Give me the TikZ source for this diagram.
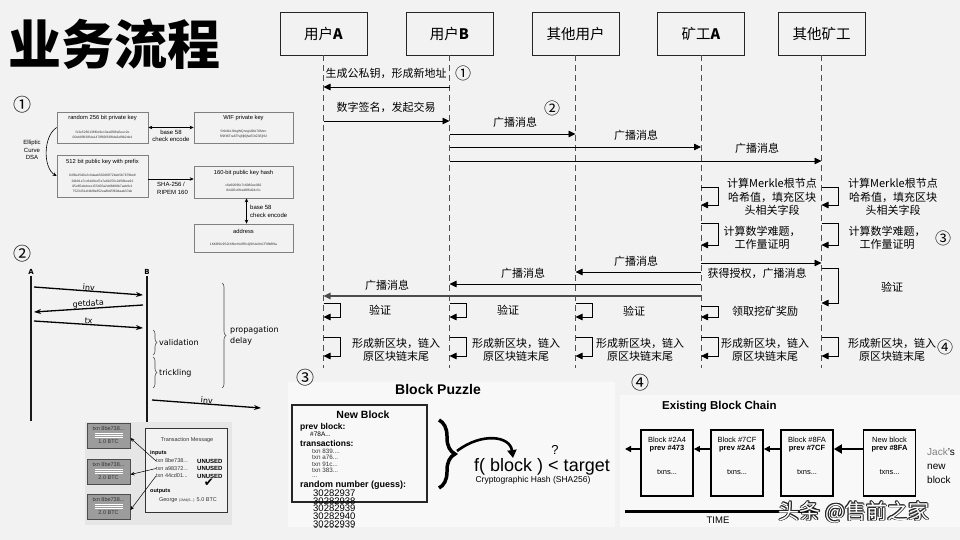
\documentclass[tikz,border=0pt]{standalone}
\usepackage{fontspec}
\setmainfont{Liberation Sans}
\newfontfamily\cjk{Noto Sans CJK SC}
\newfontfamily\dvs{DejaVu Sans}
\usetikzlibrary{arrows.meta,decorations.pathreplacing,calc}
\definecolor{bgc}{HTML}{F2F2F2}
\definecolor{lifec}{HTML}{505050}
\definecolor{panelc}{HTML}{F8F8F8}
\definecolor{txbg}{HTML}{E6E6E6}
\definecolor{coinc}{HTML}{9C9C9C}
\newcommand\sqloop[3]{\draw[msg] (#1.south |- 0,#2) -- ++(17,0) |- (#1.south |- 0,#3);}
\tikzset{
  hdr/.style={draw=black!85, line width=0.7pt, minimum width=87pt, minimum height=43pt, inner sep=0pt, font=\cjk\fontsize{14.5}{15}\selectfont},
  life/.style={draw=lifec, line width=0.9pt, dash pattern=on 6pt off 4pt},
  msg/.style={draw=black, line width=0.8pt, -{Triangle[length=7pt,width=6.5pt]}},
  lbl/.style={font=\cjk\fontsize{11}{13.5}\selectfont, align=center, inner sep=0pt},
  circnum/.style={font=\cjk\fontsize{16}{16}\selectfont, inner sep=0pt},
  bignum/.style={font=\cjk\fontsize{18}{18}\selectfont, inner sep=0pt},
  kbox/.style={draw=black!50, line width=0.6pt, fill=bgc},
  ktitle/.style={font=\fontsize{5.8}{6}\selectfont, inner sep=0pt},
  khex/.style={font=\fontsize{3.3}{5.2}\selectfont, align=center, inner sep=0pt, text=black!80},
  ksmall/.style={font=\fontsize{6}{7.5}\selectfont, align=center, inner sep=0pt},
  karr/.style={line width=0.6pt, {Stealth[length=4pt,width=3.5pt]}-{Stealth[length=4pt,width=3.5pt]}},
  karr1/.style={line width=0.6pt, -{Stealth[length=4pt,width=3.5pt]}},
  pline/.style={line width=1.6pt, draw=black!90},
  parr/.style={line width=1.3pt, -{Stealth[length=7pt,width=5pt]}},
  pl/.style={font=\dvs\fontsize{8}{9}\selectfont, inner sep=1pt},
  pbrace/.style={draw=black!70, line width=0.6pt, decorate, decoration={brace, amplitude=4pt}},
  coin/.style={draw=black!70, fill=coinc, line width=0.9pt, minimum width=43pt, minimum height=25pt, inner sep=0pt},
  tsm/.style={font=\fontsize{5.5}{6}\selectfont, inner sep=0pt},
  bbox/.style={draw=black, line width=1.8pt, minimum width=52pt, minimum height=66pt, inner sep=0pt},
  btxt/.style={font=\fontsize{7.5}{8}\selectfont, inner sep=0pt},
  barr/.style={line width=1.4pt, -{Triangle[length=6pt,width=6pt]}},
  txnl/.style={anchor=west, font=\fontsize{6.3}{7}\selectfont, inner sep=0pt, text=black!80},
}
\begin{document}
\begin{tikzpicture}[x=1pt,y=-1pt]
\fill[bgc] (0,0) rectangle (960,540);
\useasboundingbox (0,0) rectangle (960,540);

% ---------------- Title
\node[anchor=west, font=\cjk\bfseries\fontsize{53}{53}\selectfont, inner sep=0pt] (title) at (8,44) {业务流程};

% ---------------- Sequence diagram
\node[hdr] (hA) at (323.5,33.5) {用户\textbf{A}};
\node[hdr] (hB) at (449.5,33.5) {用户\textbf{B}};
\node[hdr] (hO) at (575.5,33.5) {其他用户};
\node[hdr] (hM) at (701,33.5) {矿工\textbf{A}};
\node[hdr] (hN) at (821.5,33.5) {其他矿工};
\foreach \h in {hA,hB,hO,hM,hN}{
  \coordinate (\h e) at (\h.south |- 0,368);
  \draw[life] (\h.south) -- (\h e);
}

\draw[msg] (hB.south |- 0,87) -- (hA.south |- 0,87);
\node[lbl] (l1) at (386,73) {生成公私钥，形成新地址};
\node[circnum] (n1) at (463,73) {①};
\draw[msg] (hA.south |- 0,121) -- (hB.south |- 0,121);
\node[lbl] (l2) at (386,107) {数字签名，发起交易};
\node[circnum] (n2) at (552,108) {②};
\draw[msg] (hB.south |- 0,134) -- (hO.south |- 0,134);
\node[lbl] (l3) at (515,122) {广播消息};
\draw[msg] (hB.south |- 0,147) -- (hM.south |- 0,147);
\node[lbl] (l4) at (636,135) {广播消息};
\draw[msg] (hB.south |- 0,161) -- (hN.south |- 0,161);
\node[lbl] (l5) at (757,148) {广播消息};

\sqloop{hM}{187}{205}
\node[lbl] (l6) at (772,197) {计算Merkle根节点\\哈希值，填充区块\\头相关字段};
\sqloop{hN}{187}{205}
\node[lbl] (l7) at (893,197) {计算Merkle根节点\\哈希值，填充区块\\头相关字段};

\sqloop{hM}{223}{245}
\node[lbl] (l8) at (762,238) {计算数学难题，\\工作量证明};
\sqloop{hN}{223}{245}
\node[lbl] (l9) at (887,238) {计算数学难题，\\工作量证明};
\node[circnum] (n3) at (943,238) {③};

\draw[msg] (hM.south |- 0,263) -- (hN.south |- 0,263);
\node[lbl] (l10) at (757,273) {获得授权，广播消息};
\draw[msg] (hM.south |- 0,272) -- (hO.south |- 0,272);
\node[lbl] (l11) at (636,261) {广播消息};
\draw[msg] (hM.south |- 0,284) -- (hB.south |- 0,284);
\node[lbl] (l12) at (523,273) {广播消息};
\draw[msg, draw=black!70, line width=1.2pt] (hM.south |- 0,296) -- (hA.south |- 0,296);
\node[lbl] (l13) at (387,285) {广播消息};

\sqloop{hN}{268}{303}
\node[lbl] (l14) at (892,287) {验证};
\sqloop{hM}{306}{317}
\node[lbl] (l15) at (765,311) {领取挖矿奖励};
\sqloop{hA}{303}{317}
\node[lbl] (l16) at (380,310) {验证};
\sqloop{hB}{303}{317}
\node[lbl] (l17) at (508,310) {验证};
\sqloop{hO}{303}{317}
\node[lbl] (l18) at (634,311) {验证};

\foreach \h/\x in {hA/396,hB/516,hO/640,hM/765,hN/892}{
  \sqloop{\h}{337}{356}
  \node[lbl] at (\x,350) {形成新区块，链入\\原区块链末尾};
}
\node[circnum] (n4) at (945,347) {④};

% ---------------- Panel 1 : keys
\node[bignum] (p1) at (22,105) {①};
\node[kbox, minimum width=91pt, minimum height=31pt] (k1) at (102.5,127.5) {};
\node[ktitle] at (102.5,118) {random 256 bit private key};
\node[khex] at (102.5,134.5) {f13e5230138f0e9e13ae0f08a5eec2e\\00eb8f6f18f4a1478f60f33f8da3ef8b2de4};
\node[kbox, minimum width=99pt, minimum height=31pt] (k2) at (243.5,127.5) {};
\node[ktitle] at (243.5,118) {WIF private key};
\node[khex] at (243.5,134.5) {5Kb8kLf9zgWQnogidDA76Mzn\\5f9f36Tra6Tfvj8fj8jfwEDtZ3Ejhf2};
\draw[karr] (k1.east) -- (k2.west);
\node[ksmall] at (171,136) {base 58\\check encode};

\node[kbox, minimum width=91pt, minimum height=42pt] (k3) at (102.5,176) {};
\node[ktitle] at (102.5,162) {512 bit public key with prefix};
\node[khex] at (102.5,183.5) {04f6e45d0c2c0daab5001f8f72beb5b7679be8\\20b81e7cc6d49ed7a7a61055c2d58bee92\\05e65ebdcee155405a2dd8480b7aeb8c1\\7523451ef4bf9a852ea8b05f604aab37ab};
\node[ksmall] (ecd) at (32,150) {Elliptic\\Curve\\DSA};
\draw[karr1] (k1.west) .. controls (43,136) and (43,168) .. (k3.west);

\node[kbox, minimum width=99pt, minimum height=32pt] (k4) at (243.5,182) {};
\node[ktitle] at (243.5,173) {160-bit public key hash};
\node[khex] at (243.5,188) {c6e60696c7c6080ee062\\84405c8f4ed8f6d24c5c};
\draw[karr1] ([yshift=-3pt]k3.east) -- ([yshift=3pt]k4.west);
\node[ksmall, align=left, anchor=west] at (157,188.5) {SHA-256 /\\RIPEM 160};

\node[kbox, minimum width=99pt, minimum height=28pt] (k5) at (243.5,238) {};
\node[ktitle] at (243.5,231) {address};
\node[khex] at (243.5,245) {1KKB9U9S2IX8bnHe8RlcQ9Kde9sCF9fb8f9a};
\draw[karr] ([xshift=3pt]k4.south) -- ([xshift=3pt]k5.north);
\node[ksmall, align=left, anchor=west] at (250,211.5) {base 58\\check encode};

% ---------------- Panel 2 : propagation
\node[bignum] (p2) at (22,254) {②};
\node[pl, font=\dvs\bfseries\fontsize{7}{8}\selectfont] (pA) at (31,272) {A};
\node[pl, font=\dvs\bfseries\fontsize{7}{8}\selectfont] (pB) at (147,272) {B};
\coordinate (pAe) at (31,421);
\coordinate (pBe) at (147,422);
\draw[pline] (pA.south) -- (pAe);
\draw[pline] (pB.south) -- (pBe);
\coordinate (a1) at (34,287); \coordinate (b1) at (143,295);
\coordinate (b2) at (143,305); \coordinate (a2) at (34,312);
\coordinate (a3) at (34,321); \coordinate (b3) at (143,328);
\coordinate (b4) at (152,400); \coordinate (x4) at (261,408);
\draw[parr] (a1) -- node[pl, sloped, above=-1pt] {inv} (b1);
\draw[parr] (b2) -- node[pl, sloped, above=-1pt] {getdata} (a2);
\draw[parr] (a3) -- node[pl, sloped, above=-1pt] {tx} (b3);
\draw[parr] (b4) -- node[pl, sloped, above=-1pt] {inv} (x4);
\draw[pbrace] (153,330) -- (153,355);
\node[pl, anchor=west] at (158,343) {validation};
\draw[pbrace] (153,357) -- (153,388);
\node[pl, anchor=west] at (158,373) {trickling};
\draw[pbrace] (222,283) -- (222,388);
\node[pl, anchor=west, align=left, font=\dvs\fontsize{8}{11}\selectfont] at (229,336) {propagation\\delay};

% ---------------- Panel : transaction message
\fill[txbg] (85,422) rectangle (232,525);
\foreach \c/\y/\v in {c1/435.5/1.0,c2/471.5/2.0,c3/506.5/2.0}{
  \node[coin] (\c) at (108.5,\y) {};
  \node[tsm, text=black!80] at ([yshift=7pt]\c.center) {txn 8be738...};
  \foreach \d in {2.5,0.5,-1.5}{
    \draw[white!70, line width=0.4pt] ([xshift=-14pt,yshift=\d pt]\c.center) -- ++(28,0);
  }
  \node[tsm, text=black!80] at ([yshift=-6.5pt]\c.center) {\v\ BTC};
}
\node[draw=black!80, fill=bgc, line width=0.8pt, minimum width=82pt, minimum height=84pt, inner sep=0pt] (tm) at (186,470) {};
\node[tsm, text=black!80] at (187,440) {Transaction Message};
\node[tsm, anchor=west, font=\bfseries\fontsize{5.5}{6}\selectfont] at (150,453) {inputs};
\node[tsm, anchor=west, text=black!80] (i1) at (156,461) {txn 8be738...};
\node[tsm, anchor=west, text=black!80] (i2) at (156,468.5) {txn a98372...};
\node[tsm, anchor=west, text=black!80] (i3) at (156,476) {txn 44cd01...};
\foreach \y in {461,468.5,476}{
  \node[tsm, anchor=west, font=\bfseries\fontsize{6}{6}\selectfont] at (197,\y) {UNUSED};
}
\node[tsm, anchor=west, font=\bfseries\fontsize{5.5}{6}\selectfont] at (150,491) {outputs};
\node[font=\dvs\fontsize{12}{12}\selectfont, inner sep=0pt] at (209,483) {✔};
\node[tsm, text=black!80] at (188,500) {George {\fontsize{3.6}{4}\selectfont(1MdjS...)} 5.0 BTC};
\draw[karr1, line width=0.5pt] (i1.west) -- ([yshift=-2.5pt]c1.east);
\draw[karr1, line width=0.5pt] (i2.west) -- ([yshift=-3pt]c2.east);
\draw[karr1, line width=0.5pt] (i3.west) -- ([yshift=-3.5pt]c3.east);

% ---------------- Panel 3 : block puzzle
\fill[panelc] (288,382) rectangle (615,527);
\node[bignum] (p3) at (305,378) {③};
\node[font=\bfseries\fontsize{14}{14}\selectfont, inner sep=0pt] (bpt) at (438,389) {Block Puzzle};
\begin{scope}
\clip (288,382) rectangle (615,527);
\node[draw=black!85, line width=2pt, minimum width=135pt, minimum height=97pt, inner sep=0pt] (nb) at (359.5,453.5) {};
\node[font=\bfseries\fontsize{10.5}{11}\selectfont, inner sep=0pt] at (363,415) {New Block};
\node[anchor=west, font=\bfseries\fontsize{8.5}{9}\selectfont, inner sep=0pt] at (300,427) {prev block:};
\node[anchor=west, font=\fontsize{6.5}{7}\selectfont, inner sep=0pt] at (310,434) {\#78A...};
\node[anchor=west, font=\bfseries\fontsize{8.5}{9}\selectfont, inner sep=0pt] at (300,443) {transactions:};
\node[txnl] at (312,451) {txn 839....};
\node[txnl] at (312,457.5) {txn a76...};
\node[txnl] at (312,464) {txn 91c...};
\node[txnl] at (312,470.5) {txn 383...};
\node[txnl] at (312,477) {...};
\node[anchor=west, font=\bfseries\fontsize{9}{9}\selectfont, inner sep=0pt] at (300,485) {random number (guess):};
\node[anchor=north west, align=left, font=\fontsize{9.5}{6.7}\selectfont, inner sep=0pt] (guesses) at (313,489.5) {30282937\\30282938\\30282939\\30282940\\30282939\\30282940};
\end{scope}
\draw[line width=3.5pt, decorate, decoration={brace, amplitude=16pt}] (439,420) -- (439,488);
\draw[line width=2.6pt, -{Triangle[length=8pt,width=9pt]}] (457,451) .. controls (482,432) and (510,436) .. (513,458);
\node[font=\fontsize{18}{18}\selectfont, inner sep=0pt] (fb) at (542,467) {f( block ) < target};
\node[font=\fontsize{13}{13}\selectfont, inner sep=0pt] (qm) at (555,450) {?};
\node[font=\fontsize{8.5}{9}\selectfont, inner sep=0pt] at (533,480) {Cryptographic Hash (SHA256)};

% ---------------- Panel 4 : block chain
\fill[panelc] (620,395) rectangle (960,527);
\node[bignum] (p4) at (640,383) {④};
\node[anchor=west, font=\bfseries\fontsize{11.5}{12}\selectfont, inner sep=0pt] (ebc) at (662,407) {Existing Block Chain};
\foreach \b/\x/\n/\p in {b1/667/Block \#2A4/prev \#473, b2/737/Block \#7CF/prev \#2A4, b3/807/Block \#8FA/prev \#7CF, b4/889.5/New block/prev \#8FA}{
  \node[bbox] (\b) at (\x,463) {};
  \node[btxt] at ([yshift=23pt]\b.center) {\n};
  \node[btxt, font=\bfseries\fontsize{7.5}{8}\selectfont] at ([yshift=14pt]\b.center) {\p};
  \node[btxt] at ([yshift=-9pt]\b.center) {txns...};
}
\coordinate (bl) at (625,449);
\draw[barr] ([yshift=14pt]b1.west) -- (bl);
\draw[barr] ([yshift=14pt]b2.west) -- ([yshift=14pt]b1.east);
\draw[barr] ([yshift=14pt]b3.west) -- ([yshift=14pt]b2.east);
\draw[line width=1.8pt, -{Triangle[length=8pt,width=9pt]}] ([yshift=14pt]b4.west) -- ([yshift=14pt]b3.east);
\node[anchor=west, align=left, font=\fontsize{10}{14}\selectfont, inner sep=0pt] (jack) at (927,466) {\textcolor{black!50}{Jack}'s\\new\\block};
\coordinate (t0) at (625,511);
\coordinate (t1) at (820,511);
\draw[line width=3pt, -{Triangle[length=9pt,width=10pt]}] (t0) -- (t1);
\node[font=\fontsize{9.5}{10}\selectfont, inner sep=0pt] (timel) at (718,520) {TIME};

% watermark
\foreach \dx/\dy in {-0.8/0,0.8/0,0/-0.8,0/0.8,-0.6/-0.6,0.6/0.6,-0.6/0.6,0.6/-0.6}{
  \node[font=\cjk\fontsize{21}{21}\selectfont, inner sep=0pt, text=black!85] at (854+\dx,512+\dy) {头条 @售前之家};
}
\node[font=\cjk\fontsize{21}{21}\selectfont, inner sep=0pt, text=white] (wm) at (854,512) {头条 @售前之家};
\end{tikzpicture}
\end{document}
